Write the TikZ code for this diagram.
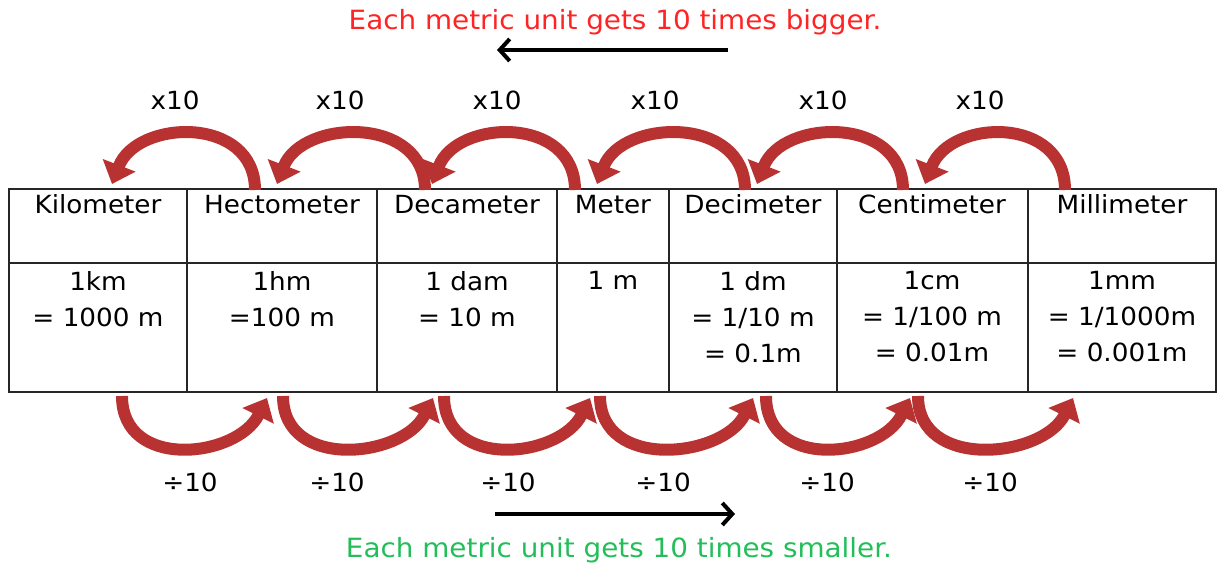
\documentclass[tikz,border=0pt]{standalone}
\usepackage{fontspec}
\setmainfont{DejaVu Sans}[FakeStretch=1.05]
\usetikzlibrary{arrows.meta}
\definecolor{jumpred}{RGB}{185,50,50}
\definecolor{bigred}{RGB}{255,35,35}
\definecolor{smallgreen}{RGB}{35,190,90}

\begin{document}
\begin{tikzpicture}[x=1pt, y=-1pt, every node/.style={font=\fontsize{25}{36}\selectfont, inner sep=0pt, align=center},
  unit/.style={anchor=base}, value/.style={anchor=north}, factor/.style={anchor=base},
  jump/.style={line width=12pt, jumpred, -{Triangle[length=20pt,width=34pt]}},
  guide/.style={line width=4pt, -{Straight Barb[length=10pt,width=22pt]}},
  grid/.style={line width=1.6pt, black!85}]
\useasboundingbox (0,0) rectangle (1218,564);

% table
\draw[grid] (9,189) rectangle (1216,392);
\draw[grid] (9,263) -- (1216,263);
\draw[grid] (187,189) -- (187,392); \draw[grid] (377,189) -- (377,392);
\draw[grid] (557,189) -- (557,392); \draw[grid] (669,189) -- (669,392);
\draw[grid] (837,189) -- (837,392); \draw[grid] (1028,189) -- (1028,392);

\node[unit] (km) at (98,214) {Kilometer};
\node[unit] (hm) at (282,214) {Hectometer};
\node[unit] (dam) at (467,214) {Decameter};
\node[unit] (m) at (613,214) {Meter};
\node[unit] (dm) at (753,214) {Decimeter};
\node[unit] (cm) at (932,214) {Centimeter};
\node[unit] (mm) at (1122,214) {Millimeter};

\node[value] (kmv) at (98,271) {1km\\= 1000 m};
\node[value] (hmv) at (282,271) {1hm\\=100 m};
\node[value] (damv) at (467,271) {1 dam\\= 10 m};
\node[value] (mv) at (613,271) {1 m};
\node[value] (dmv) at (753,271) {1 dm\\= 1/10 m\\= 0.1m};
\node[value] (cmv) at (932,271) {1cm\\= 1/100 m\\= 0.01m};
\node[value] (mmv) at (1122,271) {1mm\\= 1/1000m\\= 0.001m};

% ends of the x10 arrows
\coordinate (kmin) at (112,184); \coordinate (hmout) at (255,190);
\coordinate (hmin) at (277,184); \coordinate (damout) at (425,190);
\coordinate (damin) at (432,184); \coordinate (mout) at (575,190);
\coordinate (min) at (597,184); \coordinate (dmout) at (745,190);
\coordinate (dmin) at (757,184); \coordinate (cmout) at (903,190);
\coordinate (cmin) at (925,184); \coordinate (mmout) at (1065,190);

\draw[jump] (hmout) .. controls +(0,-75) and +(25,-65) .. (kmin);
\draw[jump] (damout) .. controls +(0,-75) and +(25,-65) .. (hmin);
\draw[jump] (mout) .. controls +(0,-75) and +(25,-65) .. (damin);
\draw[jump] (dmout) .. controls +(0,-75) and +(25,-65) .. (min);
\draw[jump] (cmout) .. controls +(0,-75) and +(25,-65) .. (dmin);
\draw[jump] (mmout) .. controls +(0,-75) and +(25,-65) .. (cmin);

% ends of the /10 arrows
\coordinate (kmdown) at (122,396); \coordinate (hmup) at (267,398);
\coordinate (hmdown) at (283,396); \coordinate (damup) at (433,398);
\coordinate (damdown) at (444,396); \coordinate (mup) at (590,398);
\coordinate (mdown) at (600,396); \coordinate (dmup) at (753,398);
\coordinate (dmdown) at (766,396); \coordinate (cmup) at (910,398);
\coordinate (cmdown) at (918,396); \coordinate (mmup) at (1073,398);

\draw[jump] (kmdown) .. controls +(0,75) and +(-30,60) .. (hmup);
\draw[jump] (hmdown) .. controls +(0,75) and +(-30,60) .. (damup);
\draw[jump] (damdown) .. controls +(0,75) and +(-30,60) .. (mup);
\draw[jump] (mdown) .. controls +(0,75) and +(-30,60) .. (dmup);
\draw[jump] (dmdown) .. controls +(0,75) and +(-30,60) .. (cmup);
\draw[jump] (cmdown) .. controls +(0,75) and +(-30,60) .. (mmup);

\node[factor] (up1) at (175,110) {x10};
\node[factor] (up2) at (340,110) {x10};
\node[factor] (up3) at (497,110) {x10};
\node[factor] (up4) at (655,110) {x10};
\node[factor] (up5) at (823,110) {x10};
\node[factor] (up6) at (980,110) {x10};

\node[factor] (down1) at (190,491) {÷10};
\node[factor] (down2) at (337,491) {÷10};
\node[factor] (down3) at (508,491) {÷10};
\node[factor] (down4) at (663,491) {÷10};
\node[factor] (down5) at (827,491) {÷10};
\node[factor] (down6) at (990,491) {÷10};

% direction notes
\node[anchor=base, text=bigred, font=\fontsize{26.5}{30}\selectfont] (bigger) at (615,30) {Each metric unit gets 10 times bigger.};
\coordinate (bigstart) at (728,50); \coordinate (bigend) at (497,50);
\draw[guide] (bigstart) -- (bigend);
\coordinate (smallstart) at (495,514); \coordinate (smallend) at (735,514);
\draw[guide] (smallstart) -- (smallend);
\node[anchor=base, text=smallgreen, font=\fontsize{26.5}{30}\selectfont] (smaller) at (619,557) {Each metric unit gets 10 times smaller.};
\end{tikzpicture}
\end{document}
